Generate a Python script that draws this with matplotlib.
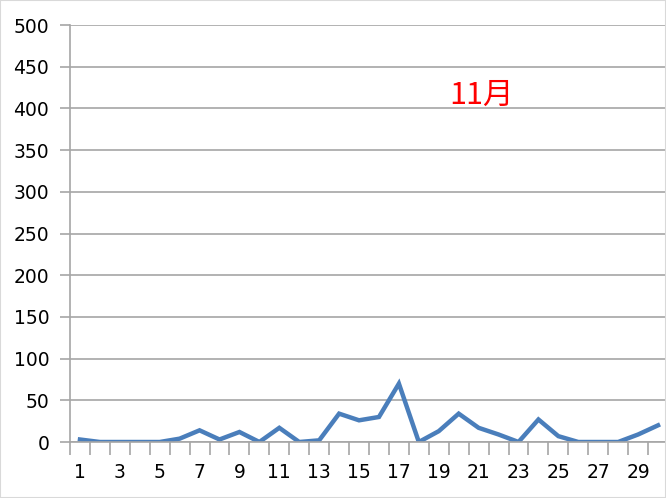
import matplotlib
matplotlib.use('Agg')
import matplotlib.pyplot as plt
from matplotlib.patches import Rectangle

plt.rcParams['font.family'] = ['DejaVu Sans', 'Noto Sans CJK JP']

days = list(range(1, 31))
counts = [3, 0, 0, 0, 0, 4, 14, 3, 12, 0,
          17, 0, 2, 34, 26, 30, 70, 0, 13, 34,
          17, 9, 0, 27, 7, 0, 0, 0, 9, 20]
y_ticks = list(range(0, 501, 50))
x_labels = [str(d) if d % 2 == 1 else "" for d in days]
title_text = "11月"

fig = plt.figure(figsize=(6.66, 4.98), dpi=100)
ax = fig.add_axes([70/666, 56/498, 598/666, 417/498])

ax.plot(days, counts, color='#4a7ebb', linewidth=3.2, solid_joinstyle='miter')

ax.set_xlim(0.5, 30.5)
ax.set_ylim(0, 500)
ax.set_yticks(y_ticks)
ax.yaxis.grid(True, color='#a6a6a6', linewidth=1.2)
ax.set_axisbelow(True)

# category ticks sit between the points
ax.set_xticks([d + 0.5 for d in range(0, 31)], minor=False)
ax.set_xticklabels([])
ax.set_xticks(days, minor=True)
ax.set_xticklabels(x_labels, minor=True, fontsize=13.5)
ax.tick_params(axis='x', which='major', length=9, color='#a6a6a6', width=1.2)
ax.tick_params(axis='x', which='minor', length=0, pad=15)
ax.tick_params(axis='y', length=7, color='#a6a6a6', width=1.2, labelsize=13.5, pad=8)

for s in ['top', 'right']:
    ax.spines[s].set_visible(False)
for s in ['left', 'bottom']:
    ax.spines[s].set_color('#a6a6a6')
    ax.spines[s].set_linewidth(1.2)

fig.text(482/666, 1 - 95/498, title_text, color='red', fontsize=22,
         family=['Noto Sans CJK JP'], ha='center', va='center')

fig.patches.append(Rectangle((0, 0), 1, 1, transform=fig.transFigure,
                             fill=False, edgecolor='#d9d9d9', linewidth=1.5))

fig.savefig('out.png', dpi=100)
